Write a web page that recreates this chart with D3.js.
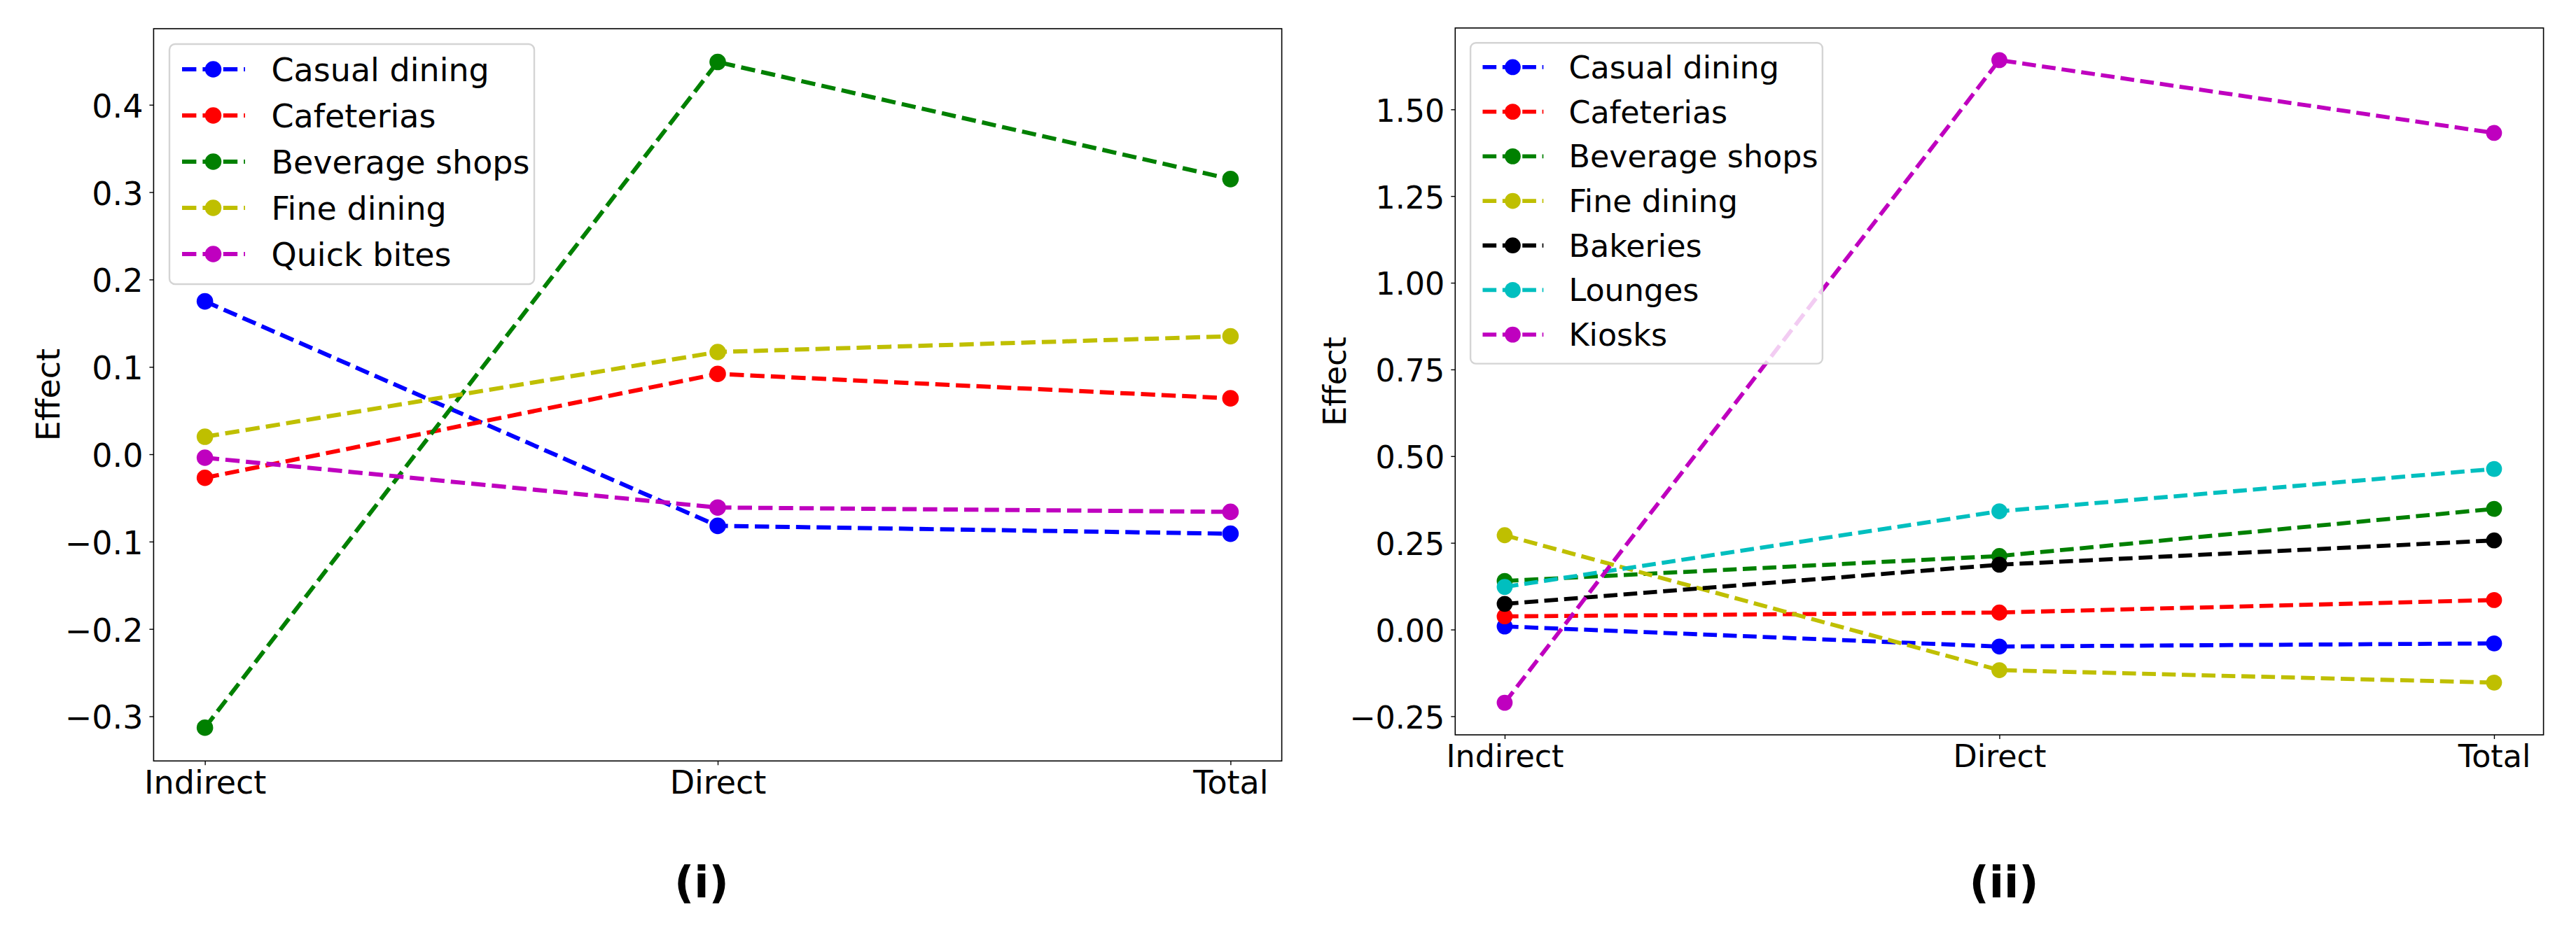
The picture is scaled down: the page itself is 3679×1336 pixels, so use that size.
<!DOCTYPE html>
<html lang="en">
<head>
    <meta charset="UTF-8">
    <script src="https://d3js.org/d3.v7.min.js"></script>
    <title>Effect by restaurant type</title>
    <style>
        body {
            margin: 0;
            background: white;
            font-family: "DejaVu Sans", sans-serif;
        }
    </style>
</head>
<body>
<div id="chart"></div>
<script>
    // categories on the x axis
    const categories = ["Indirect", "Direct", "Total"];

    // panel (i)
    const names1 = ["Casual dining", "Cafeterias", "Beverage shops", "Fine dining", "Quick bites"];
    const colors1 = ["#0000ff", "#ff0000", "#008000", "#bfbf00", "#bf00bf"];
    const casual1 = [0.175, -0.082, -0.091];
    const cafeterias1 = [-0.027, 0.092, 0.064];
    const beverage1 = [-0.313, 0.449, 0.315];
    const fine1 = [0.020, 0.117, 0.135];
    const quick1 = [-0.004, -0.061, -0.066];
    const yTicks1 = [-0.3, -0.2, -0.1, 0.0, 0.1, 0.2, 0.3, 0.4];

    // panel (ii)
    const names2 = ["Casual dining", "Cafeterias", "Beverage shops", "Fine dining", "Bakeries", "Lounges", "Kiosks"];
    const colors2 = ["#0000ff", "#ff0000", "#008000", "#bfbf00", "#000000", "#00bfbf", "#bf00bf"];
    const casual2 = [0.009, -0.049, -0.040];
    const cafeterias2 = [0.038, 0.049, 0.085];
    const beverage2 = [0.140, 0.212, 0.348];
    const fine2 = [0.272, -0.117, -0.153];
    const bakeries2 = [0.074, 0.187, 0.257];
    const lounges2 = [0.123, 0.341, 0.463];
    const kiosks2 = [-0.211, 1.642, 1.432];
    const yTicks2 = [-0.25, 0.00, 0.25, 0.50, 0.75, 1.00, 1.25, 1.50];

    const svg = d3.select("#chart")
        .append("svg")
        .attr("width", 3679)
        .attr("height", 1336);

    function drawPanel(opts) {
        const s = opts.scale;
        const font = 46 * s;
        const lw = 6 * s;
        const r = 11.8 * s;
        const dash = `${3.4 * lw},${1.5 * lw}`;

        const allValues = opts.series.flat();
        const [lo, hi] = d3.extent(allValues);
        const pad = (hi - lo) * 0.05;

        const x = d3.scalePoint()
            .domain(categories)
            .range([opts.left, opts.right])
            .padding(0.1);

        const y = d3.scaleLinear()
            .domain([lo - pad, hi + pad])
            .range([opts.bottom, opts.top]);

        const g = svg.append("g");

        // frame
        g.append("rect")
            .attr("x", opts.left)
            .attr("y", opts.top)
            .attr("width", opts.right - opts.left)
            .attr("height", opts.bottom - opts.top)
            .attr("fill", "none")
            .attr("stroke", "black")
            .attr("stroke-width", 1.6);

        // y axis
        const yAxis = g.append("g")
            .attr("transform", `translate(${opts.left},0)`)
            .call(d3.axisLeft(y)
                .tickValues(opts.yTicks)
                .tickFormat(d3.format(opts.fmt))
                .tickSize(6)
                .tickSizeOuter(0)
                .tickPadding(9));
        yAxis.select(".domain").remove();
        yAxis.selectAll("line").attr("stroke-width", 1.4);
        yAxis.selectAll("text")
            .attr("dy", "0.38em")
            .style("font-size", font + "px")
            .style("font-family", "DejaVu Sans");

        // x axis
        const xAxis = g.append("g")
            .attr("transform", `translate(0,${opts.bottom})`)
            .call(d3.axisBottom(x)
                .tickSize(6)
                .tickSizeOuter(0)
                .tickPadding(8.3 * s));
        xAxis.select(".domain").remove();
        xAxis.selectAll("line").attr("stroke-width", 1.4);
        xAxis.selectAll("text")
            .style("font-size", font + "px")
            .style("font-family", "DejaVu Sans");

        // y label
        g.append("text")
            .attr("transform", `translate(${opts.labelX},${(opts.top + opts.bottom) / 2}) rotate(-90)`)
            .attr("text-anchor", "middle")
            .style("font-size", font + "px")
            .text("Effect");

        // lines and markers
        const line = d3.line()
            .x((d, i) => x(categories[i]))
            .y(d => y(d));

        opts.series.forEach((vals, k) => {
            g.append("path")
                .datum(vals)
                .attr("d", line)
                .attr("fill", "none")
                .attr("stroke", opts.colors[k])
                .attr("stroke-width", lw)
                .attr("stroke-dasharray", dash);

            g.selectAll(null)
                .data(vals)
                .enter()
                .append("circle")
                .attr("cx", (d, i) => x(categories[i]))
                .attr("cy", d => y(d))
                .attr("r", r)
                .attr("fill", opts.colors[k]);
        });

        // legend
        const lx = opts.left + 22.6 * s;
        const ly = opts.top + 22 * s;
        const rowH = 66 * s;
        const boxH = 36 * s + (opts.names.length - 1) * rowH + 43 * s;

        g.append("rect")
            .attr("x", lx)
            .attr("y", ly)
            .attr("width", 521 * s)
            .attr("height", boxH)
            .attr("rx", 8 * s)
            .attr("fill", "white")
            .attr("fill-opacity", 0.8)
            .attr("stroke", "#d4d4d4")
            .attr("stroke-width", 2.4);

        const items = g.selectAll(".legend-item")
            .data(opts.names)
            .enter()
            .append("g")
            .attr("transform", (d, i) => `translate(${lx},${ly + 36 * s + i * rowH})`);

        items.append("line")
            .attr("x1", 18 * s)
            .attr("x2", 108 * s)
            .attr("stroke", (d, i) => opts.colors[i])
            .attr("stroke-width", lw)
            .attr("stroke-dasharray", dash);

        items.append("circle")
            .attr("cx", 62.5 * s)
            .attr("r", r)
            .attr("fill", (d, i) => opts.colors[i]);

        items.append("text")
            .attr("x", 145.5 * s)
            .attr("dy", "0.36em")
            .style("font-size", font + "px")
            .text(d => d);

        // panel caption
        svg.append("text")
            .attr("x", opts.captionX)
            .attr("y", 1282)
            .attr("text-anchor", "middle")
            .style("font-size", "62px")
            .style("font-weight", "bold")
            .text(opts.caption);
    }

    drawPanel({
        left: 219.4, right: 1830.6, top: 41, bottom: 1087.3,
        scale: 1, labelX: 85, captionX: 1002, caption: "(i)",
        names: names1, colors: colors1,
        series: [casual1, cafeterias1, beverage1, fine1, quick1],
        yTicks: yTicks1, fmt: ".1f"
    });

    drawPanel({
        left: 2078.3, right: 3632.6, top: 40, bottom: 1050,
        scale: 0.965, labelX: 1921.5, captionX: 2862, caption: "(ii)",
        names: names2, colors: colors2,
        series: [casual2, cafeterias2, beverage2, fine2, bakeries2, lounges2, kiosks2],
        yTicks: yTicks2, fmt: ".2f"
    });
</script>
</body>
</html>
